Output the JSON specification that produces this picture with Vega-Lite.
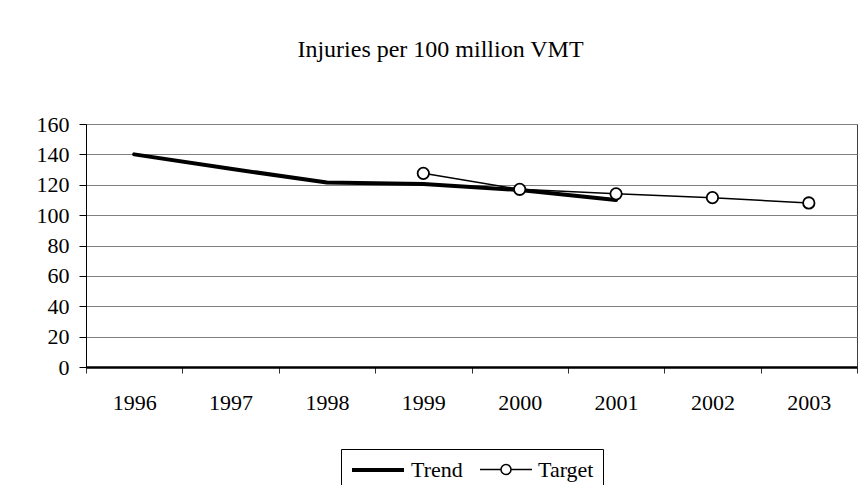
{
  "$schema": "https://vega.github.io/schema/vega-lite/v6.json",
  "autosize": "none",
  "width": 771,
  "height": 243,
  "padding": {"left": 86, "top": 124, "right": 6, "bottom": 118},
  "background": "white",
  "title": {"text": "Injuries per 100 million VMT", "font": "Liberation Serif", "fontSize": 24, "fontWeight": "normal", "color": "black", "anchor": "middle", "frame": "group", "offset": 39, "dx": -31, "baseline": "middle"},
  "config": {
    "view": {"stroke": "#404040", "strokeWidth": 1},
    "font": "Liberation Serif",
    "legend": {"symbolSize": 400}
  },
  "data": {"values": [
    {"year": "1996", "series": "Trend", "value": 140},
    {"year": "1997", "series": "Trend", "value": 130.5},
    {"year": "1998", "series": "Trend", "value": 121.5},
    {"year": "1999", "series": "Trend", "value": 120.5},
    {"year": "2000", "series": "Trend", "value": 116.5},
    {"year": "2001", "series": "Trend", "value": 110},
    {"year": "1999", "series": "Target", "value": 127.5},
    {"year": "2000", "series": "Target", "value": 117},
    {"year": "2001", "series": "Target", "value": 114},
    {"year": "2002", "series": "Target", "value": 111.5},
    {"year": "2003", "series": "Target", "value": 108}
  ]},
  "encoding": {
    "x": {"field": "year", "type": "nominal",
      "scale": {"domain": ["1996","1997","1998","1999","2000","2001","2002","2003"], "type": "band", "paddingInner": 0, "paddingOuter": 0},
      "axis": {"title": null, "labelAngle": 0, "tickBand": "extent", "ticks": true, "tickSize": 6, "tickColor": "#333", "domainColor": "black", "domainWidth": 2.5, "labelFont": "Liberation Serif", "labelFontSize": 22, "labelColor": "black", "labelPadding": 19, "grid": false}},
    "y": {"field": "value", "type": "quantitative",
      "scale": {"domain": [0, 160], "nice": false, "zero": true},
      "axis": {"title": null, "values": [0,20,40,60,80,100,120,140,160], "grid": true, "gridColor": "#7f7f7f", "gridWidth": 1, "domainColor": "black", "tickColor": "black", "tickSize": 7, "labelFont": "Liberation Serif", "labelFontSize": 22, "labelColor": "black", "labelPadding": 10}}
  },
  "layer": [
    {
      "mark": {"type": "line", "strokeCap": "round", "strokeJoin": "round"},
      "encoding": {
        "color": {"field": "series", "type": "nominal",
          "scale": {"domain": ["Trend", "Target"], "range": ["black", "black"]},
          "legend": {"title": null, "orient": "none", "legendX": 255, "legendY": 325, "direction": "horizontal",
            "strokeColor": "black", "padding": 9, "labelFont": "Liberation Serif", "labelFontSize": 22, "labelColor": "black", "labelOffset": 37, "columnPadding": 14,
            "encode": {"symbols": {"update": {
              "shape": {"signal": "datum.value === 'Trend' ? 'M-1,0H4.2' : 'M-1,0H1.1M2.1,0H4.2M2.1,0A0.5,0.5,0,1,1,1.1,0A0.5,0.5,0,1,1,2.1,0'"},
              "strokeWidth": {"signal": "datum.value === 'Trend' ? 4 : 1.5"},
              "fill": {"value": "white"},
              "stroke": {"value": "black"}
            }}}}},
        "strokeWidth": {"field": "series", "type": "nominal", "scale": {"domain": ["Trend", "Target"], "range": [4, 1.5]}, "legend": null}
      }
    },
    {
      "transform": [{"filter": "datum.series === 'Target'"}],
      "mark": {"type": "point", "shape": "circle", "filled": true, "fill": "white", "stroke": "black", "strokeWidth": 1.8, "size": 130, "opacity": 1}
    }
  ]
}
